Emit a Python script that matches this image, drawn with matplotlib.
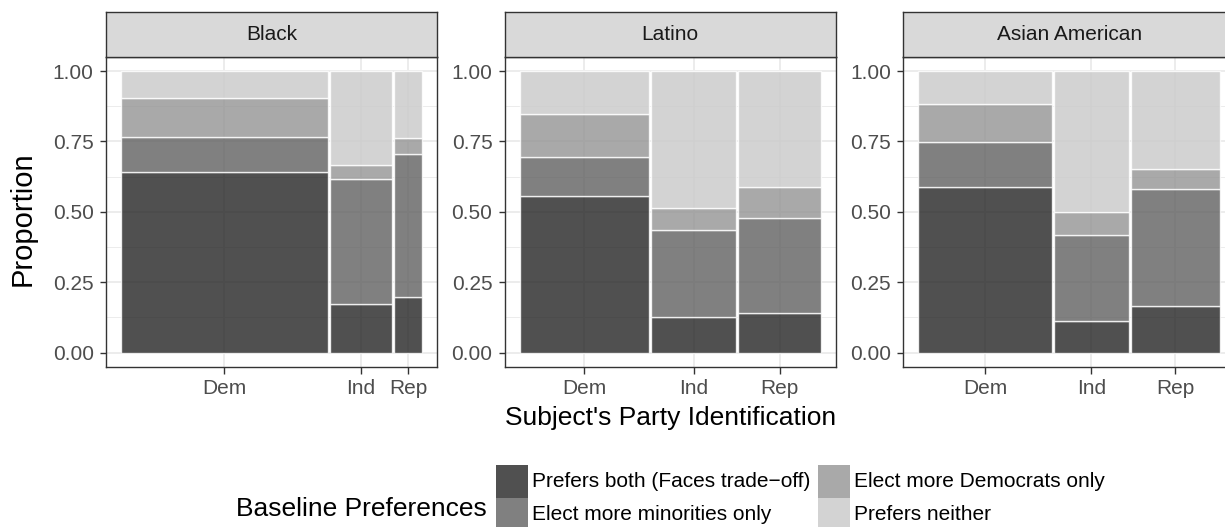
import matplotlib
matplotlib.use("Agg")
import matplotlib.pyplot as plt
from matplotlib.patches import Rectangle
import numpy as np

plt.rcParams["font.family"] = ["Liberation Sans", "DejaVu Sans"]

# ---- data -------------------------------------------------------------
groups = ["Black", "Latino", "Asian American"]
parties = ["Dem", "Ind", "Rep"]
preferences = [
    "Prefers both (Faces trade\u2212off)",
    "Elect more minorities only",
    "Elect more Democrats only",
    "Prefers neither",
]

# share of each party within a group (bar widths)
black_party_share = [0.697, 0.207, 0.096]
latino_party_share = [0.434, 0.288, 0.278]
asian_party_share = [0.449, 0.251, 0.300]

# preference shares within each party (bottom to top), rows = Dem, Ind, Rep
black_pref = [
    [0.641, 0.126, 0.139, 0.094],
    [0.171, 0.444, 0.052, 0.333],
    [0.198, 0.506, 0.057, 0.239],
]
latino_pref = [
    [0.555, 0.141, 0.153, 0.151],
    [0.126, 0.308, 0.081, 0.485],
    [0.141, 0.337, 0.109, 0.413],
]
asian_pref = [
    [0.588, 0.161, 0.133, 0.118],
    [0.113, 0.303, 0.083, 0.501],
    [0.164, 0.418, 0.071, 0.347],
]

party_shares = [black_party_share, latino_party_share, asian_party_share]
pref_shares = [black_pref, latino_pref, asian_pref]

y_ticks = [0.0, 0.25, 0.5, 0.75, 1.0]
y_tick_labels = ["0.00", "0.25", "0.50", "0.75", "1.00"]

# ---- style ------------------------------------------------------------
fills = ["#242424", "#606060", "#949494", "#c9c9c9"]
fill_alpha = 0.8
W, H = 1225, 527
small = 15
large = 19
grey20 = "#333333"
grey30 = "#4d4d4d"

fig = plt.figure(figsize=(W / 100, H / 100), dpi=100)


def fx(px):
    return px / W


def fy(py):
    return 1 - py / H


panel_lefts = [105.7, 504.5, 903.3]
panel_w = 331.6
panel_top, panel_bottom = 57.0, 366.7
strip_top = 12.0
gap = 0.0066

for gi, group in enumerate(groups):
    left = panel_lefts[gi]
    ax = fig.add_axes([fx(left), fy(panel_bottom), panel_w / W,
                       (panel_bottom - panel_top) / H])
    ax.set_xlim(-0.05, 1.05)
    ax.set_ylim(-0.05, 1.05)

    shares = np.array(party_shares[gi])
    widths = shares / shares.sum() * (1 - gap * (len(parties) - 1))
    x0 = np.concatenate([[0], np.cumsum(widths + gap)[:-1]])
    centers = x0 + widths / 2

    for pi in range(len(parties)):
        bottom = 0.0
        for k, v in enumerate(pref_shares[gi][pi]):
            ax.add_patch(Rectangle((x0[pi], bottom), widths[pi], v,
                                   facecolor=fills[k], alpha=fill_alpha,
                                   edgecolor="white", linewidth=1.0, zorder=2))
            bottom += v

    ax.set_xticks(centers)
    ax.set_xticklabels(parties)
    ax.set_yticks(y_ticks)
    ax.set_yticklabels(y_tick_labels)
    ax.set_yticks([0.125, 0.375, 0.625, 0.875], minor=True)
    ax.tick_params(which="major", length=6.5 * 0.72, width=1.0, color=grey20,
                   labelsize=small, labelcolor=grey30, pad=4)
    ax.tick_params(which="minor", length=0)
    ax.set_axisbelow(True)
    ax.grid(which="major", color="#ebebeb", linewidth=1.3, zorder=0)
    ax.grid(which="minor", axis="y", color="#ebebeb", linewidth=0.65, zorder=0)
    for s in ax.spines.values():
        s.set_color(grey20)
        s.set_linewidth(1.0)

    # facet strip
    sax = fig.add_axes([fx(left), fy(panel_top), panel_w / W,
                        (panel_top - strip_top) / H])
    sax.set_facecolor("#d9d9d9")
    sax.set_xticks([])
    sax.set_yticks([])
    for s in sax.spines.values():
        s.set_color(grey20)
        s.set_linewidth(1.0)
    sax.text(0.5, 0.5, group, ha="center", va="center", fontsize=small,
             color="#1a1a1a", transform=sax.transAxes)

# axis titles
fig.text(fx(670.4), fy(418), "Subject's Party Identification", ha="center",
         va="center", fontsize=large)
fig.text(fx(23), fy(219), "Proportion", ha="center", va="center",
         fontsize=21, rotation=90)

# legend
fig.text(fx(486.6), fy(509), "Baseline Preferences", ha="right", va="center",
         fontsize=large)
key_x = [495.6, 817.5]
key_y = [465.0, 497.7]
key_size = 32.8
for k, label in enumerate(preferences):
    col, row = k // 2, k % 2
    fig.patches.append(Rectangle((fx(key_x[col]), fy(key_y[row] + key_size)),
                                 key_size / W, key_size / H,
                                 facecolor=fills[k], alpha=fill_alpha,
                                 edgecolor="none",
                                 transform=fig.transFigure, figure=fig))
    fig.text(fx(key_x[col] + key_size + 4), fy(key_y[row] + key_size / 2),
             label, ha="left", va="center", fontsize=small)

fig.savefig("out.png", dpi=100)
